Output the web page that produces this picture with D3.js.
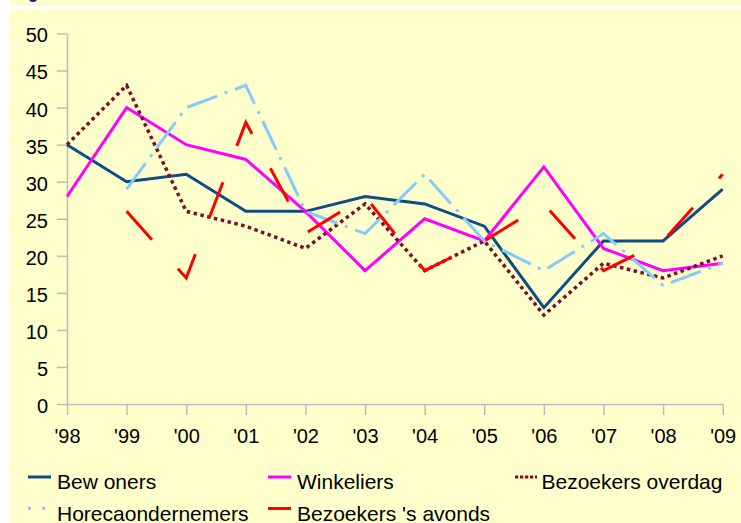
<!DOCTYPE html>
<html>
<head>
<meta charset="utf-8">
<script src="https://cdn.jsdelivr.net/npm/d3@7"></script>
<style>
  body { margin: 0; background: #ffffff; }
  svg { display: block; font-family: "Liberation Sans", Arial, sans-serif; }
</style>
</head>
<body>
<div id="chart"></div>
<script>
var years = ["'98", "'99", "'00", "'01", "'02", "'03", "'04", "'05", "'06", "'07", "'08", "'09"];
var yTicks = [0, 5, 10, 15, 20, 25, 30, 35, 40, 45, 50];

var bewoners = [35, 30, 31, 26, 26, 28, 27, 24, 13, 22, 22, 29];
var winkeliers = [28, 40, 35, 33, 26, 18, 25, 22, 32, 21, 18, 19];
var overdag = [35, 43, 26, 24, 21, 27, 18, 22, 12, 19, 17, 20];
var horeca = [null, 29, 40, 43, 26, 23, 31, 22, 18, 23, 16, 19];
var avonds = [null, 26, 17, 38, 23, 28, 18, 22, 27, 18, 22, 31];

var seriesNames = ['Bew oners', 'Winkeliers', 'Bezoekers overdag', 'Horecaondernemers', "Bezoekers 's avonds"];

var series = [
    {name: seriesNames[0], values: bewoners, color: '#0e4c86', dash: null, width: 3},
    {name: seriesNames[1], values: winkeliers, color: '#ff00ff', dash: null, width: 3},
    {name: seriesNames[2], values: overdag, color: '#7a0f2c', dash: '3.5,3.5', width: 3.5},
    {name: seriesNames[3], values: horeca, color: '#86cbf7', dash: '32,8,3,8', width: 3},
    {name: seriesNames[4], values: avonds, color: '#ff0000', dash: '38,39', width: 3}
];

var width = 741, height = 523;
var axisColor = '#bcbcbc';

var svg = d3.select('#chart').append('svg')
    .attr('width', width)
    .attr('height', height);

// background bands
svg.append('rect').attr('x', 10).attr('y', 0).attr('width', width - 10).attr('height', 5).attr('fill', '#ffffcc');
svg.append('rect').attr('x', 10).attr('y', 9.5).attr('width', width - 10).attr('height', height - 9.5).attr('fill', '#ffffcc');
// bottom of a cut-off title glyph
svg.append('ellipse').attr('cx', 33).attr('cy', -1).attr('rx', 4).attr('ry', 3).attr('fill', '#1a1a8c');

var x = d3.scalePoint().domain(years).range([67, 722.7]);
var y = d3.scaleLinear().domain([0, 50]).range([404, 33.5]);

// y axis
var yAxis = svg.append('g')
    .attr('transform', 'translate(67,0)')
    .call(d3.axisLeft(y).tickValues(yTicks).tickSize(10).tickSizeOuter(0).tickPadding(9));

// x axis
var xAxis = svg.append('g')
    .attr('transform', 'translate(0,404)')
    .call(d3.axisBottom(x).tickSize(11).tickSizeOuter(0).tickPadding(14));

[yAxis, xAxis].forEach(function(axis) {
    axis.select('.domain').attr('stroke', axisColor).attr('stroke-width', 1.5);
    axis.selectAll('.tick line').attr('stroke', axisColor).attr('stroke-width', 1.5);
    axis.selectAll('.tick text')
        .attr('fill', '#000')
        .style('font-size', '20px')
        .style('font-family', '"Liberation Sans", Arial, sans-serif');
});
yAxis.selectAll('.tick text').attr('dy', '0.42em');

// lines
var line = d3.line()
    .defined(function(d) { return d !== null; })
    .x(function(d, i) { return x(years[i]); })
    .y(function(d) { return y(d); });

svg.selectAll('.series')
    .data(series).enter()
    .append('path')
    .attr('class', 'series')
    .attr('fill', 'none')
    .attr('stroke', function(d) { return d.color; })
    .attr('stroke-width', function(d) { return d.width; })
    .attr('stroke-dasharray', function(d) { return d.dash; })
    .attr('stroke-linejoin', 'miter')
    .attr('d', function(d) { return line(d.values); });

// legend
var legendPos = [
    {x: 28, y: 477},
    {x: 268, y: 477},
    {x: 515, y: 477},
    {x: 28, y: 508.5},
    {x: 268, y: 508.5}
];
var legendDash = [null, null, '3.3,1.7', '3,11', null];

var legend = svg.selectAll('.legend')
    .data(series).enter()
    .append('g')
    .attr('class', 'legend')
    .attr('transform', function(d, i) { return 'translate(' + legendPos[i].x + ',' + legendPos[i].y + ')'; });

legend.append('line')
    .attr('x1', 0)
    .attr('x2', function(d, i) { return i === 2 ? 22 : 23; })
    .attr('y1', 0).attr('y2', 0)
    .attr('stroke', function(d) { return d.color; })
    .attr('stroke-width', 3)
    .attr('stroke-dasharray', function(d, i) { return legendDash[i]; });

legend.append('text')
    .attr('x', function(d, i) { return i === 2 ? 26.5 : 29; })
    .attr('y', 12)
    .attr('fill', '#000')
    .style('font-size', '21px')
    .text(function(d) { return d.name; });
</script>
</body>
</html>
